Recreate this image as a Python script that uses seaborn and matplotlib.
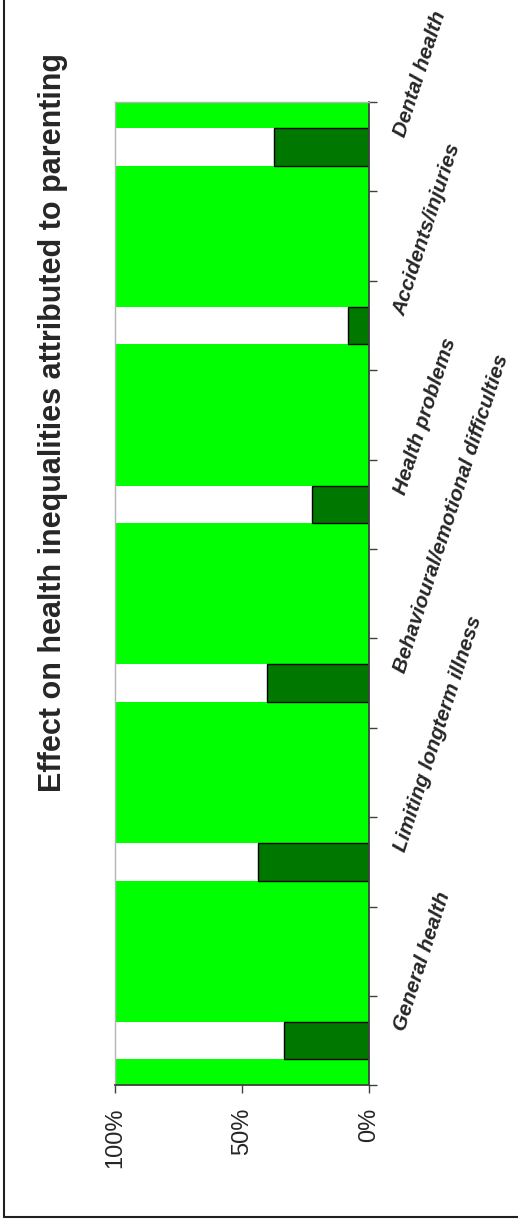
import numpy as np
import pandas as pd
import matplotlib
matplotlib.use("Agg")
import matplotlib.pyplot as plt
from matplotlib.lines import Line2D
import seaborn as sns

sns.set_style("white")
plt.rcParams["font.family"] = ["Liberation Sans", "DejaVu Sans"]

# Share of each health inequality attributed to parenting (%)
categories = [
    "General health",
    "Limiting longterm illness",
    "Behavioural/emotional difficulties",
    "Health problems",
    "Accidents/injuries",
    "Dental health",
]
parenting_share = [33.3, 43.6, 40.1, 22.3, 8.0, 37.4]
total_share = [100, 100, 100, 100, 100, 100]
value_ticks = [0, 50, 100]
value_tick_labels = ["0%", "50%", "100%"]
title = "Effect on health inequalities attributed to parenting"

BRIGHT = "#00FF00"
DARK = "#007800"

df = pd.DataFrame({
    "category": categories,
    "parenting": parenting_share,
    "total": total_share,
})

# each category is followed by an empty spacer slot on the category axis
order = []
for i, c in enumerate(categories):
    order.append(c)
    if i < len(categories) - 1:
        order.append(f"_spacer{i}")

fig = plt.figure(figsize=(5.18, 12.25), dpi=100)
ax = fig.add_axes([0.222, 0.114, 0.4898, 0.8027])
ax.set_facecolor(BRIGHT)

sns.barplot(data=df, x="total", y="category", order=order, orient="h",
            color="white", saturation=1, width=0.42, edgecolor="none",
            linewidth=0, ax=ax)
sns.barplot(data=df, x="parenting", y="category", order=order, orient="h",
            color=DARK, saturation=1, width=0.42, edgecolor="black",
            linewidth=1.0, ax=ax)

ax.set_xlim(100, 0)
ax.set_ylim(-0.5, len(order) - 0.5)
ax.set_xlabel("")
ax.set_ylabel("")

# value axis (drawn horizontally, 0% on the right)
ax.set_xticks(value_ticks)
ax.set_xticklabels(value_tick_labels, rotation=90, fontsize=17, va="top", ha="center")
ax.tick_params(axis="x", direction="out", length=6, width=1, color="#404040",
               pad=10, bottom=True)

# category axis on the right, ticks at slot boundaries
ax.yaxis.tick_right()
ax.set_yticks(np.arange(-0.5, len(order), 1.0))
ax.set_yticklabels([])
ax.tick_params(axis="y", direction="out", length=5.5, width=1, color="#404040",
               right=True, left=False)

for side in ["left", "top"]:
    ax.spines[side].set_color("#b4b4b4")
    ax.spines[side].set_linewidth(1.0)
for side in ["bottom", "right"]:
    ax.spines[side].set_color("#404040")
    ax.spines[side].set_linewidth(1.3)
    ax.spines[side].set_visible(True)

# slanted category labels
for c in categories:
    pos = order.index(c)
    ax.annotate(c, xy=(1.0, pos), xycoords=("axes fraction", "data"),
                xytext=(26, 6.5), textcoords="offset points",
                rotation=72, rotation_mode="anchor", ha="left", va="baseline",
                fontsize=15, fontweight="bold", fontstyle="italic",
                annotation_clip=False)

fig.text(0.102, 0.6555, title, rotation=90, ha="center", va="center",
         fontsize=22, fontweight="bold")

# chart area frame
fig.add_artist(Line2D([3.5 / 518, 3.5 / 518], [1 - 1217 / 1225, 1.0],
                      transform=fig.transFigure, color="#202020", linewidth=1.5))
fig.add_artist(Line2D([3.5 / 518, 1.0], [1 - 1217 / 1225, 1 - 1217 / 1225],
                      transform=fig.transFigure, color="#202020", linewidth=1.5))

fig.savefig("out.png", dpi=100)
